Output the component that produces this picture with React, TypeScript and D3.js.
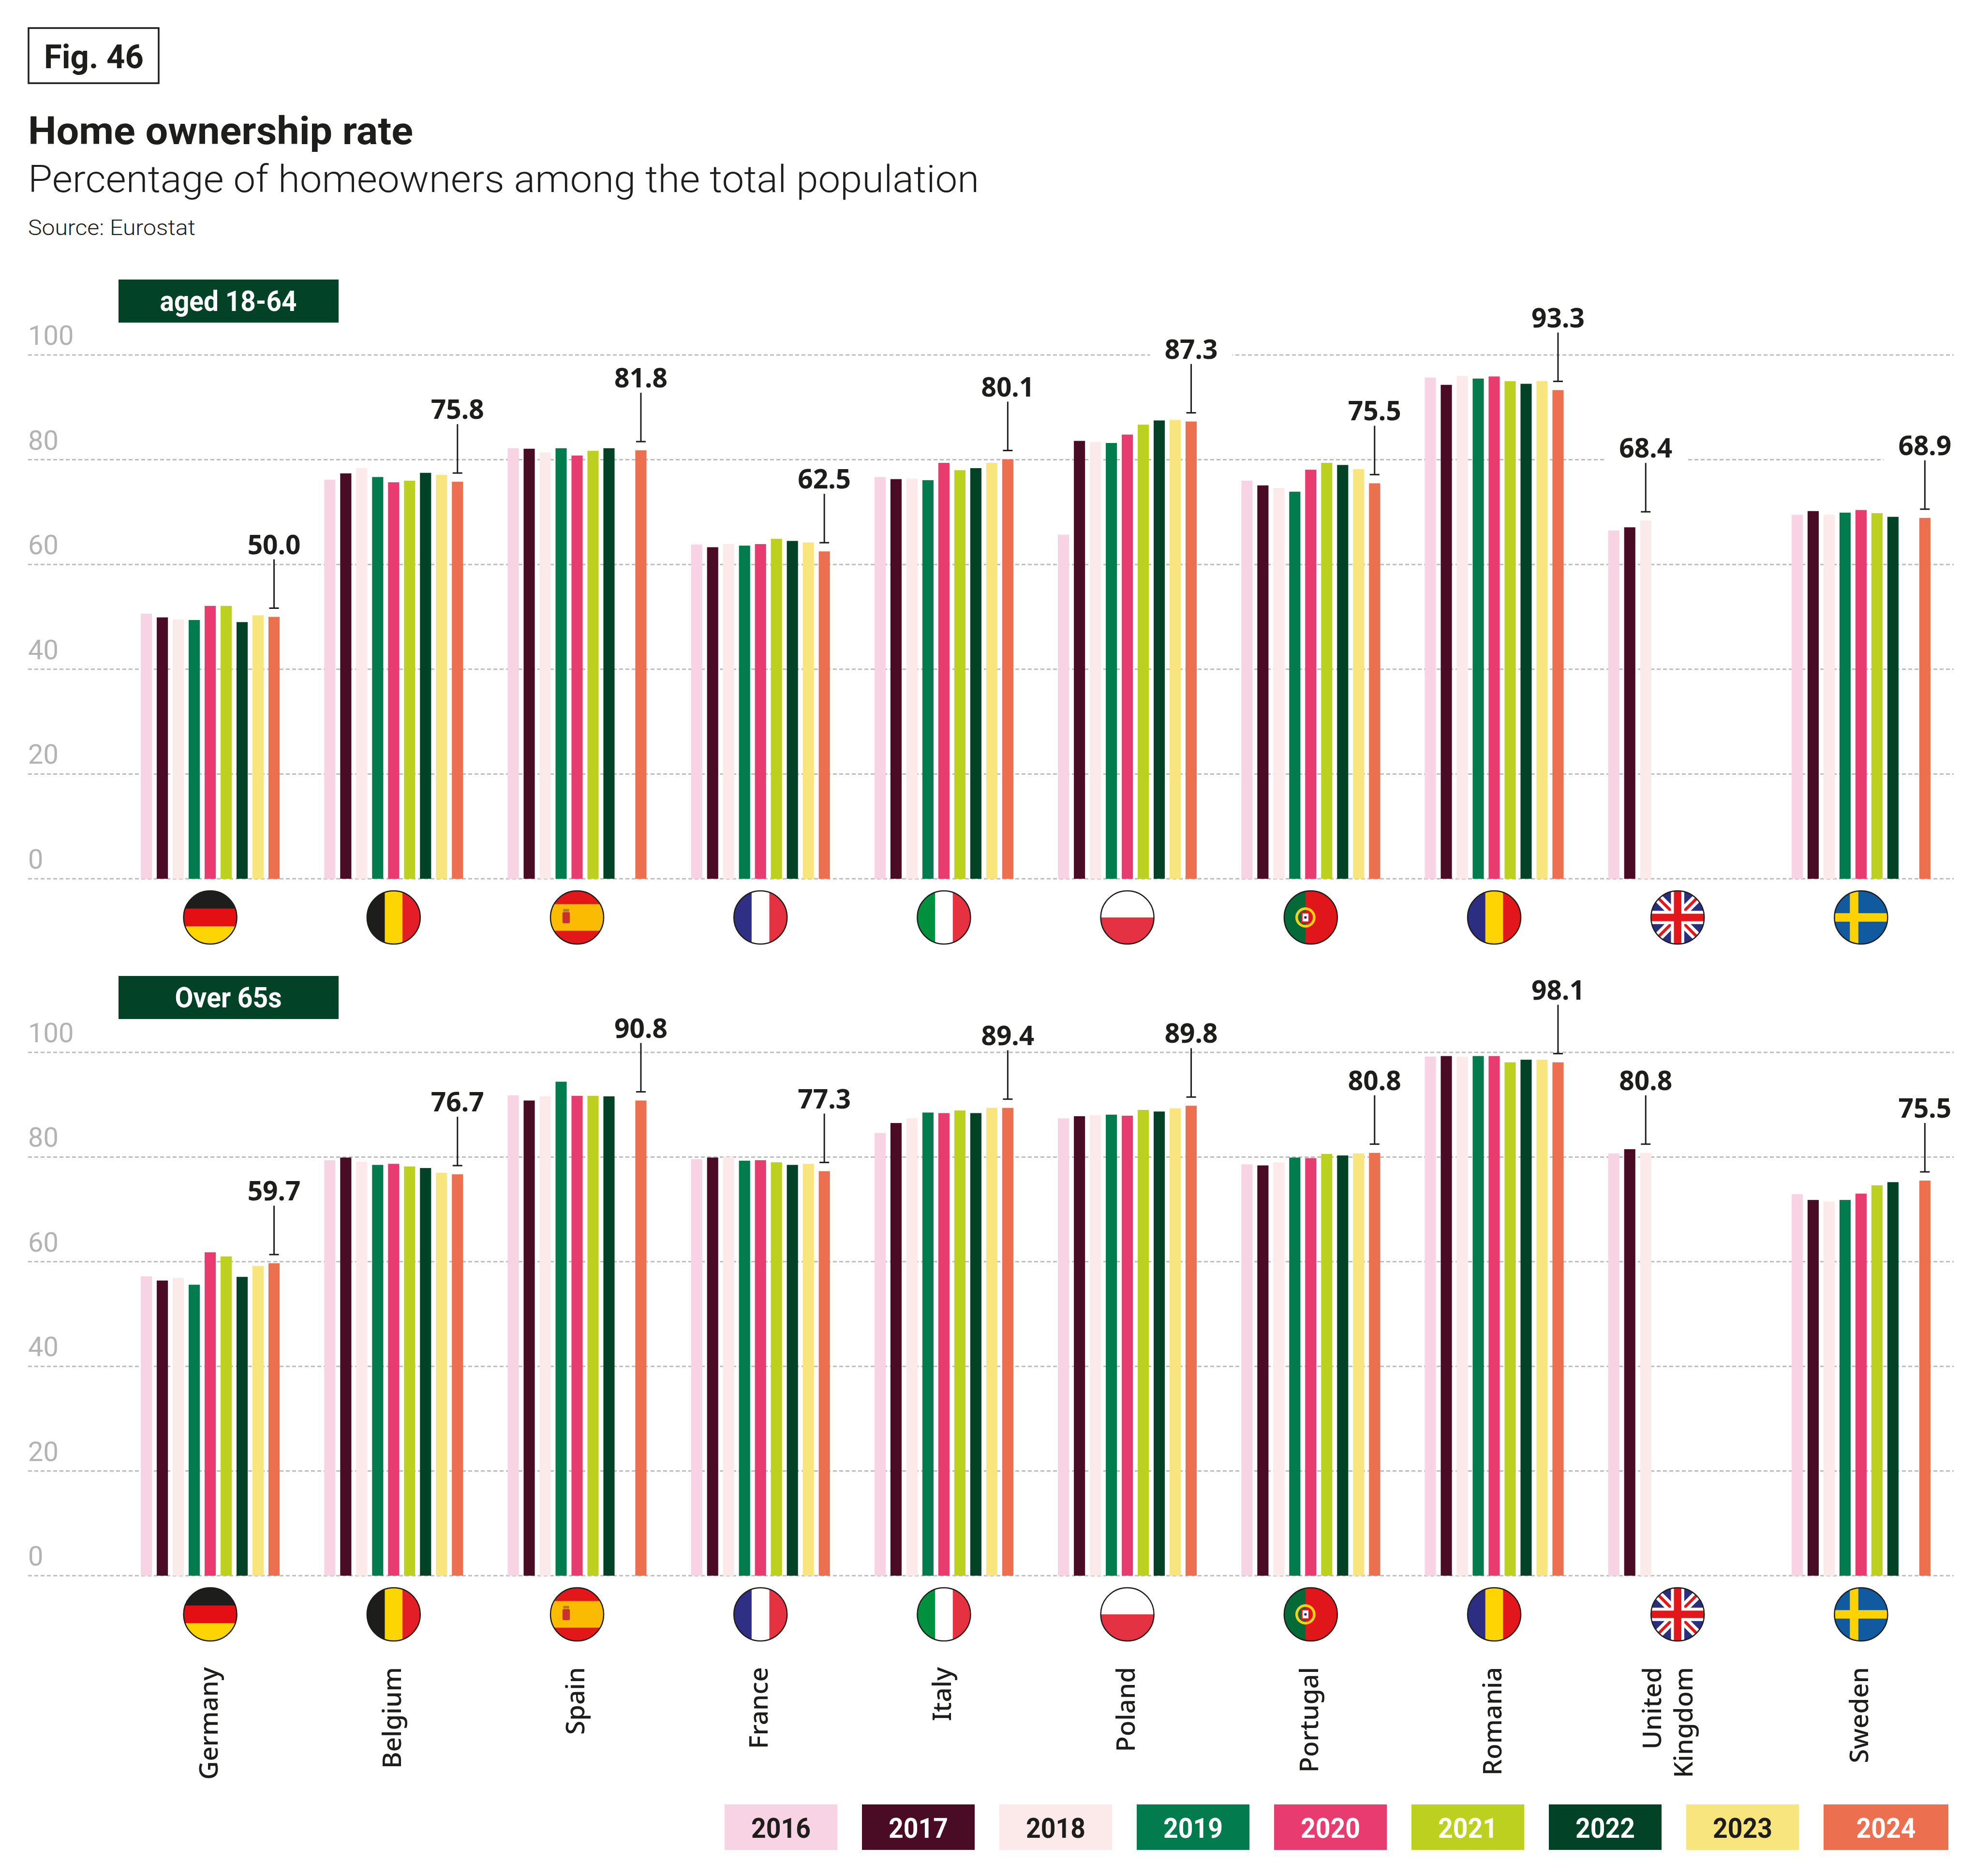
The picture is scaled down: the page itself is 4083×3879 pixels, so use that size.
import * as d3 from "d3";

// ---- data ----
const years = ["2016", "2017", "2018", "2019", "2020", "2021", "2022", "2023", "2024"];
const countries = [
  "Germany",
  "Belgium",
  "Spain",
  "France",
  "Italy",
  "Poland",
  "Portugal",
  "Romania",
  "United Kingdom",
  "Sweden",
];
const flagCodes = ["de", "be", "es", "fr", "it", "pl", "pt", "ro", "uk", "se"];
const yTicks = [0, 20, 40, 60, 80, 100];

// rows follow `countries`, columns follow `years`; null = no data
const aged18to64: (number | null)[][] = [
  [50.6, 49.9, 49.5, 49.4, 52.1, 52.1, 49.0, 50.3, 50.0],
  [76.2, 77.4, 78.4, 76.7, 75.7, 76.0, 77.5, 77.1, 75.8],
  [82.2, 82.1, 81.4, 82.2, 80.8, 81.7, 82.2, null, 81.8],
  [63.8, 63.3, 63.9, 63.6, 63.9, 64.9, 64.5, 64.2, 62.5],
  [76.7, 76.3, 76.4, 76.1, 79.4, 78.0, 78.4, 79.4, 80.1],
  [65.7, 83.6, 83.4, 83.2, 84.8, 86.7, 87.5, 87.6, 87.3],
  [76.0, 75.1, 74.6, 73.9, 78.1, 79.4, 79.0, 78.2, 75.5],
  [95.7, 94.3, 96.0, 95.5, 95.9, 95.0, 94.5, 95.0, 93.3],
  [66.5, 67.1, 68.4, null, null, null, null, null, null],
  [69.5, 70.2, 69.5, 69.9, 70.4, 69.8, 69.1, null, 68.9],
];

const over65: (number | null)[][] = [
  [57.2, 56.4, 56.9, 55.6, 61.8, 61.0, 57.1, 59.2, 59.7],
  [79.4, 79.9, 79.1, 78.5, 78.7, 78.2, 77.9, 77.0, 76.7],
  [91.8, 90.8, 91.6, 94.4, 91.7, 91.7, 91.6, null, 90.8],
  [79.6, 79.9, 80.0, 79.3, 79.4, 79.0, 78.5, 78.7, 77.3],
  [84.6, 86.5, 87.4, 88.5, 88.4, 88.9, 88.4, 89.4, 89.4],
  [87.4, 87.8, 88.0, 88.1, 87.9, 89.0, 88.7, 89.3, 89.8],
  [78.6, 78.4, 79.0, 79.9, 79.8, 80.6, 80.3, 80.7, 80.8],
  [99.2, 99.3, 99.2, 99.3, 99.3, 98.1, 98.6, 98.6, 98.1],
  [80.7, 81.5, 80.8, null, null, null, null, null, null],
  [72.9, 71.8, 71.5, 71.8, 73.0, 74.6, 75.2, null, 75.5],
];

// ---- styles ----
const yearColors = [
  "#f7d3e3",
  "#4a0c25",
  "#fce9ea",
  "#027b4e",
  "#e83b6f",
  "#bcd11f",
  "#024226",
  "#f9e57e",
  "#ec6f4f",
];
const yearTextColors = ["#1d1d1b", "#fff", "#1d1d1b", "#fff", "#fff", "#fff", "#fff", "#1d1d1b", "#fff"];

const W = 4083;
const H = 3879;
const INK = "#1d1d1b";
const CONDENSED = "'Roboto', 'Liberation Sans', sans-serif";
const SANS = "'Noto Sans', 'Open Sans', sans-serif";

const x = d3.scaleBand<string>().domain(countries).range([245, 4037]);
const GROUP_W = 287;
const xYear = d3.scaleBand<string>().domain(years).range([0, GROUP_W]).paddingInner(0.3);
const fmt = d3.format(".1f");

function Flag({ code, cx, cy, r, id }: { code: string; cx: number; cy: number; r: number; id: string }) {
  const L = cx - r;
  const T = cy - r;
  const D = 2 * r;
  const vert = (cols: string[]) =>
    cols.map((c, i) => <rect key={i} x={L + (D / cols.length) * i} y={T} width={D / cols.length + 0.5} height={D} fill={c} />);
  const horiz = (rows: string[]) =>
    rows.map((c, i) => <rect key={i} x={L} y={T + (D / rows.length) * i} width={D} height={D / rows.length + 0.5} fill={c} />);

  let body: any = null;
  if (code === "de") body = horiz(["#1d1d1b", "#e30f13", "#ffd500"]);
  else if (code === "be") body = vert(["#1d1d1b", "#fdd500", "#e41e26"]);
  else if (code === "fr") body = vert(["#2e2f85", "#ffffff", "#e63240"]);
  else if (code === "it") body = vert(["#00913f", "#ffffff", "#e63240"]);
  else if (code === "ro") body = vert(["#2b2e83", "#fed500", "#e3161b"]);
  else if (code === "pl") body = horiz(["#ffffff", "#e53242"]);
  else if (code === "es")
    body = (
      <>
        <rect x={L} y={T} width={D} height={D} fill="#e2171a" />
        <rect x={L} y={cy - r / 2} width={D} height={r} fill="#fbbb00" />
        <rect x={cx - 0.55 * r} y={cy - 0.2 * r} width={0.28 * r} height={0.42 * r} fill="#c8312c" rx={3} />
        <rect x={cx - 0.52 * r} y={cy - 0.32 * r} width={0.22 * r} height={0.1 * r} fill="#b07a2a" />
      </>
    );
  else if (code === "pt")
    body = (
      <>
        <rect x={L} y={T} width={D} height={D} fill="#e0161b" />
        <rect x={L} y={T} width={0.8 * r} height={D} fill="#046a38" />
        <circle cx={cx - 0.2 * r} cy={cy} r={0.33 * r} fill="none" stroke="#f7d117" strokeWidth={0.1 * r} />
        <rect x={cx - 0.34 * r} y={cy - 0.18 * r} width={0.28 * r} height={0.36 * r} fill="#fff" stroke="#e0161b" strokeWidth={0.06 * r} />
        <circle cx={cx - 0.2 * r} cy={cy} r={0.05 * r} fill="#2b2e83" />
      </>
    );
  else if (code === "uk")
    body = (
      <>
        <rect x={L} y={T} width={D} height={D} fill="#2a2f7d" />
        <line x1={L} y1={T} x2={L + D} y2={T + D} stroke="#fff" strokeWidth={0.34 * r} />
        <line x1={L + D} y1={T} x2={L} y2={T + D} stroke="#fff" strokeWidth={0.34 * r} />
        <line x1={L} y1={T} x2={L + D} y2={T + D} stroke="#e3161b" strokeWidth={0.11 * r} />
        <line x1={L + D} y1={T} x2={L} y2={T + D} stroke="#e3161b" strokeWidth={0.11 * r} />
        <rect x={L} y={cy - 0.25 * r} width={D} height={0.5 * r} fill="#fff" />
        <rect x={cx - 0.25 * r} y={T} width={0.5 * r} height={D} fill="#fff" />
        <rect x={L} y={cy - 0.14 * r} width={D} height={0.28 * r} fill="#e3161b" />
        <rect x={cx - 0.14 * r} y={T} width={0.28 * r} height={D} fill="#e3161b" />
      </>
    );
  else if (code === "se")
    body = (
      <>
        <rect x={L} y={T} width={D} height={D} fill="#115aa0" />
        <rect x={L} y={cy - 0.16 * r} width={D} height={0.32 * r} fill="#fed100" />
        <rect x={cx - 0.42 * r} y={T} width={0.32 * r} height={D} fill="#fed100" />
      </>
    );

  return (
    <g>
      <clipPath id={id}>
        <circle cx={cx} cy={cy} r={r} />
      </clipPath>
      <g clipPath={`url(#${id})`}>{body}</g>
      <circle cx={cx} cy={cy} r={r} fill="none" stroke={INK} strokeWidth={2.5} />
    </g>
  );
}

function Panel({
  data,
  top,
  bottom,
  tag,
  tagY,
  tagTextW,
  prefix,
}: {
  data: (number | null)[][];
  top: number;
  bottom: number;
  tag: string;
  tagY: number;
  tagTextW: number;
  prefix: string;
}) {
  const y = d3.scaleLinear().domain([0, 100]).range([bottom, top]);
  const groupLeft = (c: string) => x(c)! + (x.bandwidth() - GROUP_W) / 2;

  return (
    <g>
      {/* panel tag */}
      <rect x={245} y={tagY} width={455} height={89} fill="#024226" />
      <text
        x={472}
        y={tagY + 65}
        textAnchor="middle"
        fill="#fff"
        fontFamily={CONDENSED}
        fontWeight={700}
        fontSize={60}
        textLength={tagTextW}
        lengthAdjust="spacingAndGlyphs"
      >
        {tag}
      </text>

      {/* gridlines + tick labels */}
      {yTicks.map((t) => (
        <g key={t}>
          <line x1={58} x2={4039} y1={y(t)} y2={y(t)} stroke="#bdbdbd" strokeWidth={3} strokeDasharray="8 5" />
          <text x={58} y={y(t) - 21} fill="#b3b3b3" fontFamily={CONDENSED} fontSize={56} fontWeight={400}>
            {t}
          </text>
        </g>
      ))}

      {/* bars */}
      {countries.map((c, ci) =>
        years.map((yr, yi) => {
          const v = data[ci][yi];
          if (v == null) return null;
          return (
            <rect
              key={`${c}-${yr}`}
              x={groupLeft(c) + xYear(yr)!}
              y={y(v)}
              width={xYear.bandwidth()}
              height={bottom - y(v)}
              fill={yearColors[yi]}
            />
          );
        }),
      )}

      {/* annotation on latest value */}
      {countries.map((c, ci) => {
        let li = -1;
        data[ci].forEach((v, i) => {
          if (v != null) li = i;
        });
        const v = data[ci][li] as number;
        const bx = groupLeft(c) + xYear(years[li])! + xYear.bandwidth() / 2;
        const by = y(v);
        return (
          <g key={`ann-${c}`}>
            <rect x={bx - 85} y={by - 180} width={170} height={62} fill="#fff" />
            <line x1={bx} x2={bx} y1={by - 119} y2={by - 18} stroke={INK} strokeWidth={3} />
            <line x1={bx - 10} x2={bx + 10} y1={by - 18} y2={by - 18} stroke={INK} strokeWidth={3} />
            <text x={bx} y={by - 130} textAnchor="middle" fill={INK} fontFamily={SANS} fontWeight={700} fontSize={55}>
              {fmt(v)}
            </text>
          </g>
        );
      })}

      {/* flags */}
      {countries.map((c, ci) => (
        <Flag key={`flag-${c}`} code={flagCodes[ci]} cx={x(c)! + x.bandwidth() / 2} cy={bottom + 80} r={55} id={`${prefix}-${flagCodes[ci]}`} />
      ))}
    </g>
  );
}

export default function App() {
  const labelTop = 3447;
  return (
    <svg
      width={W}
      height={H}
      viewBox={`0 0 ${W} ${H}`}
      style={{ position: "absolute", left: 0, top: 0, background: "#fff" }}
    >
      <rect width={W} height={H} fill="#fff" />

      {/* header */}
      <rect x={59} y={58} width={269} height={114} fill="none" stroke={INK} strokeWidth={3.5} />
      <text x={91} y={141} fill={INK} fontFamily={CONDENSED} fontWeight={700} fontSize={68} textLength={206} lengthAdjust="spacingAndGlyphs">
        Fig. 46
      </text>
      <text x={58} y={298} fill={INK} fontFamily={CONDENSED} fontWeight={700} fontSize={80} textLength={796} lengthAdjust="spacingAndGlyphs">
        Home ownership rate
      </text>
      <text x={58} y={397} fill={INK} fontFamily={CONDENSED} fontWeight={300} fontSize={78} textLength={1966} lengthAdjust="spacingAndGlyphs">
        Percentage of homeowners among the total population
      </text>
      <text x={58} y={486} fill={INK} fontFamily={CONDENSED} fontWeight={300} fontSize={45} textLength={346} lengthAdjust="spacingAndGlyphs">
        Source: Eurostat
      </text>

      <Panel data={aged18to64} top={734} bottom={1817} tag="aged 18-64" tagY={578} tagTextW={283} prefix="p1" />
      <Panel data={over65} top={2176} bottom={3258} tag="Over 65s" tagY={2018} tagTextW={221} prefix="p2" />

      {/* country labels */}
      {countries.map((c) => {
        const cx = x(c)! + x.bandwidth() / 2;
        const parts = c === "United Kingdom" ? ["United", "Kingdom"] : [c];
        const offsets = parts.length === 2 ? [-34, 31] : [15];
        return (
          <text
            key={`lbl-${c}`}
            transform={`translate(${cx},${labelTop}) rotate(-90)`}
            textAnchor="end"
            fill={INK}
            fontFamily={SANS}
            fontWeight={500}
            fontSize={53}
          >
            {parts.map((p, i) => (
              <tspan key={p} x={0} y={offsets[i]}>
                {p}
              </tspan>
            ))}
          </text>
        );
      })}

      {/* legend */}
      {years.map((yr, i) => {
        const step = 284;
        const bx = 1498 + step * i;
        const bw = i === years.length - 1 ? 258 : 233;
        return (
          <g key={`leg-${yr}`}>
            <rect x={bx} y={3731} width={bw} height={94} fill={yearColors[i]} />
            <text
              x={bx + bw / 2}
              y={3800}
              textAnchor="middle"
              fill={yearTextColors[i]}
              fontFamily={CONDENSED}
              fontWeight={700}
              fontSize={58}
              textLength={123}
              lengthAdjust="spacingAndGlyphs"
            >
              {yr}
            </text>
          </g>
        );
      })}
    </svg>
  );
}
